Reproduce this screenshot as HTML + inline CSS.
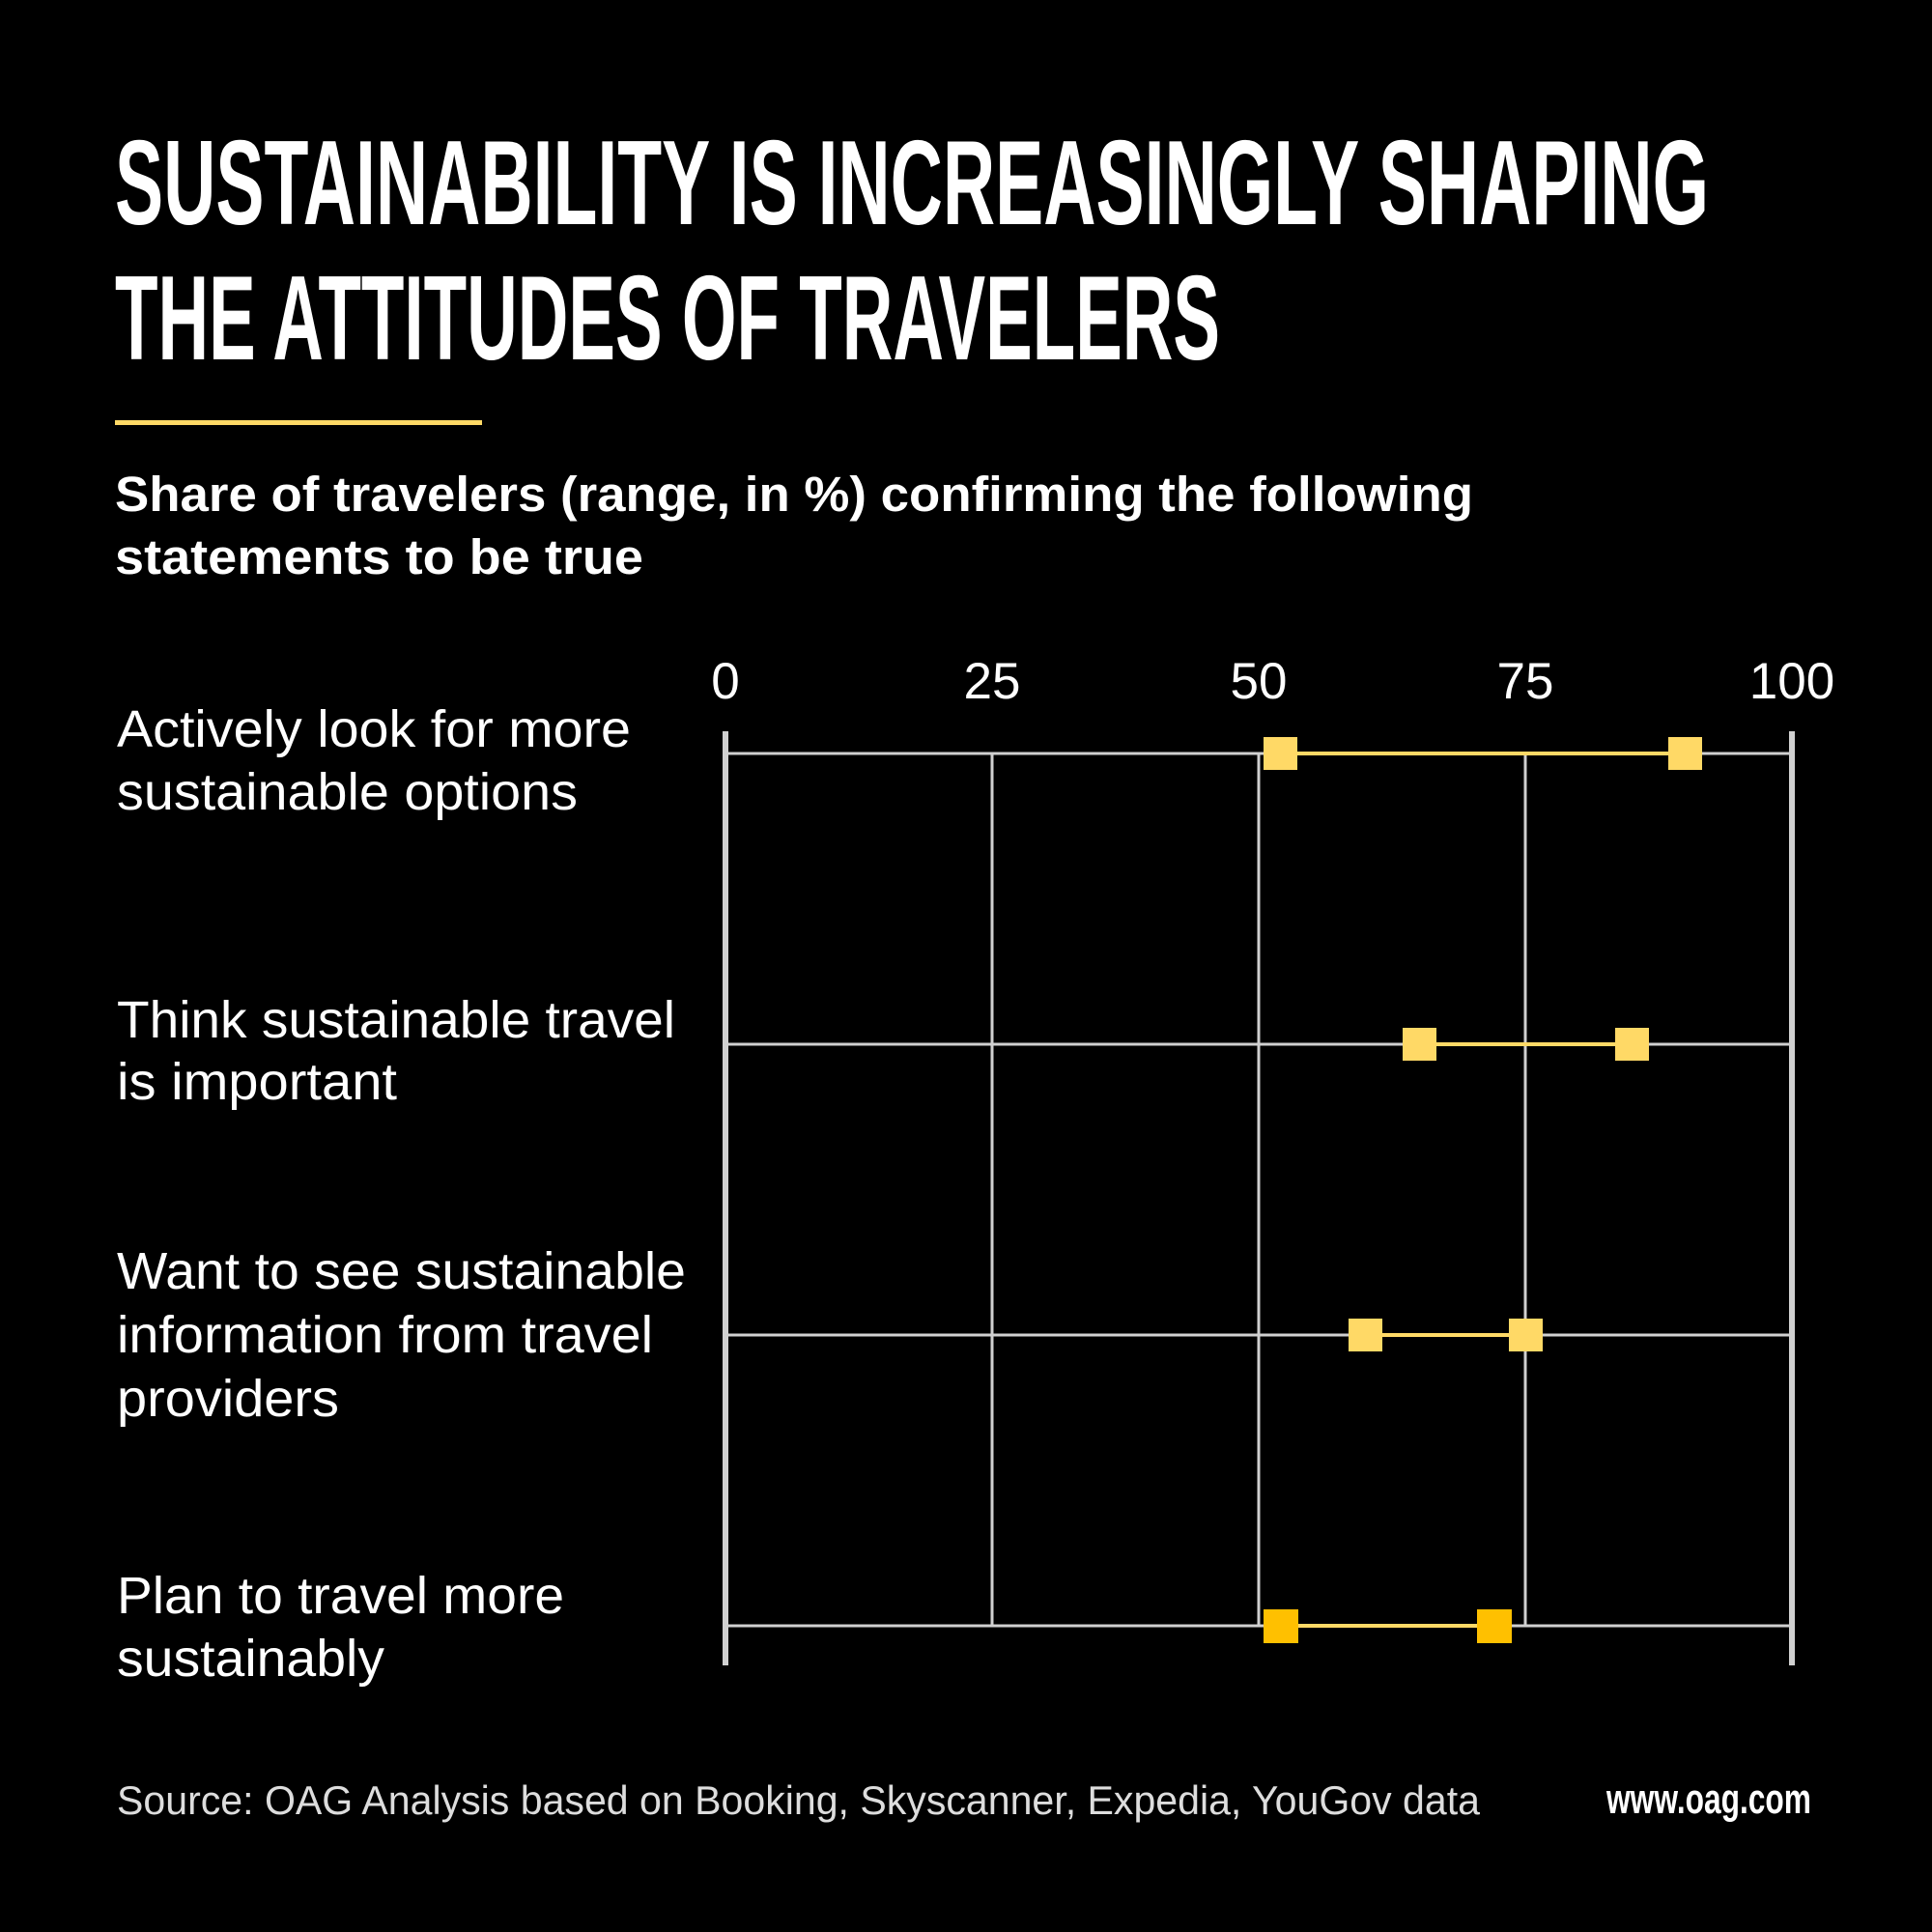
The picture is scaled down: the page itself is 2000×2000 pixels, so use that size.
<!DOCTYPE html>
<html><head><meta charset="utf-8"><style>html,body{margin:0;padding:0;background:#000;width:2000px;height:2000px;overflow:hidden}</style></head>
<body>
<svg width="2000" height="2000" viewBox="0 0 2000 2000" xmlns="http://www.w3.org/2000/svg">
<rect width="2000" height="2000" fill="#000"/>
<g font-family="Liberation Sans Narrow, Liberation Sans, sans-serif" font-weight="bold" fill="#fff" font-size="124">
<text x="119" y="232" textLength="1650" lengthAdjust="spacingAndGlyphs">SUSTAINABILITY IS INCREASINGLY SHAPING</text>
<text x="119" y="372" textLength="1144" lengthAdjust="spacingAndGlyphs">THE ATTITUDES OF TRAVELERS</text>
</g>
<rect x="119" y="435" width="380" height="5" fill="#FFD966"/>
<g font-family="Liberation Sans, sans-serif" font-weight="bold" fill="#fff" font-size="51">
<text x="119" y="529" textLength="1406" lengthAdjust="spacingAndGlyphs">Share of travelers (range, in %) confirming the following</text>
<text x="119" y="594" textLength="547" lengthAdjust="spacingAndGlyphs">statements to be true</text>
</g>
<g font-family="Liberation Sans, sans-serif" fill="#fff" font-size="53" text-anchor="middle">
<text x="751" y="723">0</text><text x="1027" y="723">25</text><text x="1303" y="723">50</text><text x="1579" y="723">75</text><text x="1855" y="723">100</text>
</g>
<g stroke="#d0d0d0" stroke-width="3">
<line x1="751" y1="780" x2="1855" y2="780"/>
<line x1="751" y1="1081" x2="1855" y2="1081"/>
<line x1="751" y1="1382" x2="1855" y2="1382"/>
<line x1="751" y1="1683" x2="1855" y2="1683"/>
<line x1="1027" y1="780" x2="1027" y2="1683"/>
<line x1="1303" y1="780" x2="1303" y2="1683"/>
<line x1="1579" y1="780" x2="1579" y2="1683"/>
</g>
<g stroke="#d0d0d0" stroke-width="6">
<line x1="751" y1="757" x2="751" y2="1724"/>
<line x1="1855" y1="757" x2="1855" y2="1724"/>
</g>
<g stroke="#FFD966" stroke-width="4">
<line x1="1325" y1="780" x2="1744" y2="780"/>
<line x1="1469" y1="1081" x2="1689" y2="1081"/>
<line x1="1413" y1="1382" x2="1579" y2="1382"/>
<line x1="1325" y1="1683" x2="1546" y2="1683"/>
</g>
<g fill="#FFD966">
<rect x="1308" y="763" width="35" height="34"/><rect x="1727" y="763" width="35" height="34"/>
<rect x="1452" y="1064" width="35" height="34"/><rect x="1672" y="1064" width="35" height="34"/>
<rect x="1396" y="1365" width="35" height="34"/><rect x="1562" y="1365" width="35" height="34"/>
</g>
<g fill="#FFC000">
<rect x="1308" y="1666" width="36" height="35"/><rect x="1529" y="1666" width="36" height="35"/>
</g>
<g font-family="Liberation Sans, sans-serif" fill="#fff" font-size="54">
<text x="121" y="773" textLength="532" lengthAdjust="spacingAndGlyphs">Actively look for more</text>
<text x="121" y="838" textLength="477" lengthAdjust="spacingAndGlyphs">sustainable options</text>
<text x="121" y="1074" textLength="578" lengthAdjust="spacingAndGlyphs">Think sustainable travel</text>
<text x="121" y="1138" textLength="290" lengthAdjust="spacingAndGlyphs">is important</text>
<text x="121" y="1334" textLength="589" lengthAdjust="spacingAndGlyphs">Want to see sustainable</text>
<text x="121" y="1400" textLength="555" lengthAdjust="spacingAndGlyphs">information from travel</text>
<text x="121" y="1466" textLength="230" lengthAdjust="spacingAndGlyphs">providers</text>
<text x="121" y="1670" textLength="463" lengthAdjust="spacingAndGlyphs">Plan to travel more</text>
<text x="121" y="1735" textLength="277" lengthAdjust="spacingAndGlyphs">sustainably</text>
</g>
<text x="121" y="1878" font-family="Liberation Sans, sans-serif" fill="#ddd" font-size="42" textLength="1411" lengthAdjust="spacingAndGlyphs">Source: OAG Analysis based on Booking, Skyscanner, Expedia, YouGov data</text>
<text x="1663" y="1877" font-family="Liberation Sans Narrow, Liberation Sans, sans-serif" font-weight="bold" fill="#fff" font-size="44" textLength="212" lengthAdjust="spacingAndGlyphs">www.oag.com</text>
</svg>
</body></html>
